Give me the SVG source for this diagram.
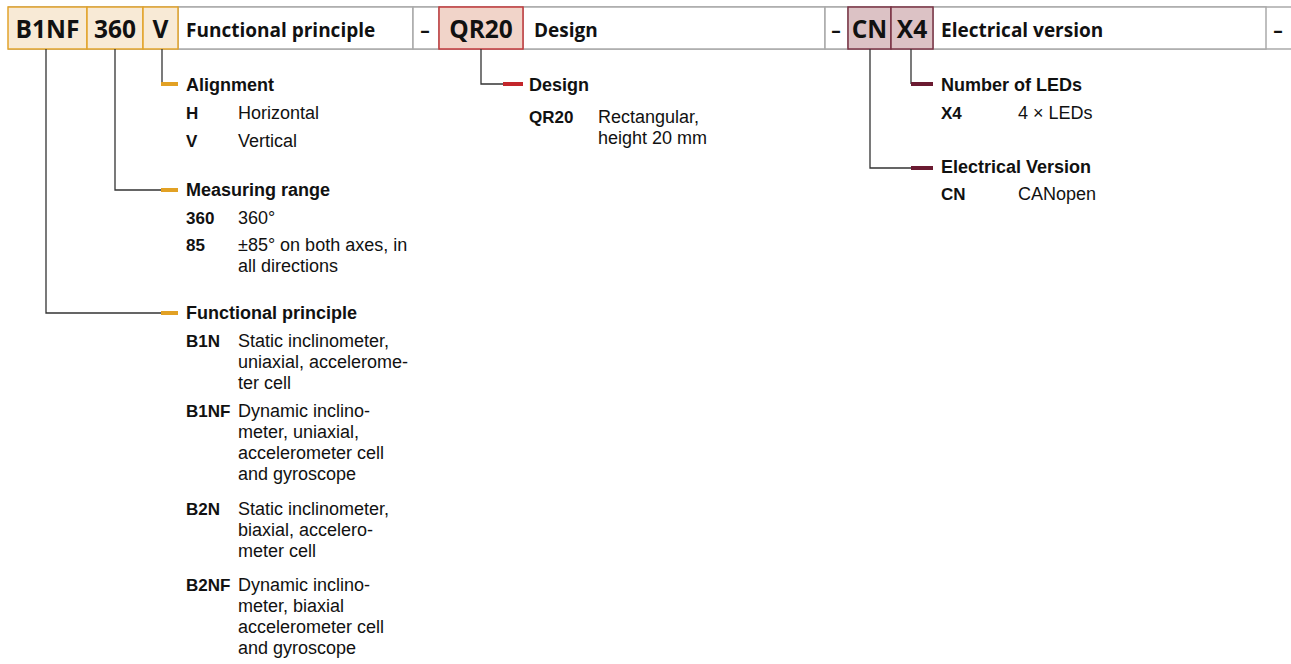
<svg xmlns="http://www.w3.org/2000/svg" width="1291" height="664" viewBox="0 0 1291 664">
<style>
text{font-family:"Open Sans","Noto Sans","Liberation Sans",sans-serif;fill:#111}
.hc{font-size:24.5px;font-weight:bold;text-anchor:middle}
.hl{font-size:19px;font-weight:bold}
.t,.c,.d{font-family:"Liberation Sans",Arial,sans-serif}
.t{font-size:18px;font-weight:bold}
.c{font-size:17px;font-weight:bold}
.d{font-size:18px}
.cell{fill:#fff;stroke:#aaa;stroke-width:1.5}
.o{fill:#f8ead6;stroke:#e2a42c;stroke-width:1.5}
.r{fill:#f1d4c9;stroke:#c1393b;stroke-width:1.5}
.m{fill:#dcc2c5;stroke:#7a3344;stroke-width:1.5}
.ln{fill:none;stroke:#333;stroke-width:1.3}
.mo{stroke:#e2a124;stroke-width:4}
.mr{stroke:#c3262b;stroke-width:4}
.mm{stroke:#6b1a31;stroke-width:4}
</style>
<rect width="1291" height="664" fill="#fff"/>
<g id="header">
<line x1="8" y1="7" x2="1291" y2="7" stroke="#aaa" stroke-width="1.5"/>
<line x1="8" y1="49" x2="1291" y2="49" stroke="#aaa" stroke-width="1.5"/>
<rect class="cell" x="178" y="7" width="235" height="42"/>
<rect class="cell" x="413" y="7" width="26" height="42"/>
<rect class="cell" x="523" y="7" width="302" height="42"/>
<rect class="cell" x="825" y="7" width="23" height="42"/>
<rect class="cell" x="933" y="7" width="333" height="42"/>
<text class="hl" x="425" y="37" text-anchor="middle">–</text>
<text class="hl" x="836" y="37" text-anchor="middle">–</text>
<text class="hl" x="1278" y="37" text-anchor="middle">–</text>
</g>
<g id="code-B1NF"><rect class="o" x="8" y="7" width="79" height="42"/><text class="hc" x="47.5" y="38">B1NF</text></g>
<g id="code-360"><rect class="o" x="87" y="7" width="56" height="42"/><text class="hc" x="115" y="38">360</text></g>
<g id="code-V"><rect class="o" x="143" y="7" width="35" height="42"/><text class="hc" x="160.5" y="38">V</text></g>
<g id="label-functional"><text class="hl" x="186" y="37">Functional principle</text></g>
<g id="code-QR20"><rect class="r" x="439" y="7" width="84" height="42"/><text class="hc" x="481" y="38">QR20</text></g>
<g id="label-design"><text class="hl" x="534" y="37">Design</text></g>
<g id="code-CN"><rect class="m" x="848" y="7" width="43" height="42"/><text class="hc" x="869.5" y="38">CN</text></g>
<g id="code-X4"><rect class="m" x="891" y="7" width="42" height="42"/><text class="hc" x="912" y="38">X4</text></g>
<g id="label-electrical"><text class="hl" x="941" y="37">Electrical version</text></g>

<g id="connectors">
<polyline class="ln" points="162,49 162,84"/>
<polyline class="ln" points="115,49 115,190 162,190"/>
<polyline class="ln" points="46,49 46,313 162,313"/>
<polyline class="ln" points="481,49 481,84 503,84"/>
<polyline class="ln" points="911,49 911,84"/>
<polyline class="ln" points="870,49 870,168 911,168"/>
<line class="mo" x1="161" y1="84" x2="178" y2="84"/>
<line class="mo" x1="161" y1="190" x2="178" y2="190"/>
<line class="mo" x1="161" y1="313" x2="178" y2="313"/>
<line class="mr" x1="503" y1="84" x2="523" y2="84"/>
<line class="mm" x1="911" y1="84" x2="933" y2="84"/>
<line class="mm" x1="911" y1="168" x2="933" y2="168"/>
</g>

<g id="alignment">
<text class="t" x="186" y="91">Alignment</text>
<text class="c" x="186" y="119">H</text><text class="d" x="238" y="119">Horizontal</text>
<text class="c" x="186" y="147">V</text><text class="d" x="238" y="147">Vertical</text>
</g>
<g id="measuring-range">
<text class="t" x="186" y="196">Measuring range</text>
<text class="c" x="186" y="224">360</text><text class="d" x="238" y="224">360°</text>
<text class="c" x="186" y="251">85</text>
<text class="d" x="238" y="251">±85° on both axes, in<tspan x="238" dy="21">all directions</tspan></text>
</g>
<g id="functional-principle">
<text class="t" x="186" y="319">Functional principle</text>
<text class="c" x="186" y="347">B1N</text>
<text class="d" x="238" y="347">Static inclinometer,<tspan x="238" dy="21">uniaxial, accelerome-</tspan><tspan x="238" dy="21">ter cell</tspan></text>
<text class="c" x="186" y="417">B1NF</text>
<text class="d" x="238" y="417">Dynamic inclino-<tspan x="238" dy="21">meter, uniaxial,</tspan><tspan x="238" dy="21">accelerometer cell</tspan><tspan x="238" dy="21">and gyroscope</tspan></text>
<text class="c" x="186" y="515">B2N</text>
<text class="d" x="238" y="515">Static inclinometer,<tspan x="238" dy="21">biaxial, accelero-</tspan><tspan x="238" dy="21">meter cell</tspan></text>
<text class="c" x="186" y="591">B2NF</text>
<text class="d" x="238" y="591">Dynamic inclino-<tspan x="238" dy="21">meter, biaxial</tspan><tspan x="238" dy="21">accelerometer cell</tspan><tspan x="238" dy="21">and gyroscope</tspan></text>
</g>
<g id="design">
<text class="t" x="529" y="91">Design</text>
<text class="c" x="529" y="123">QR20</text>
<text class="d" x="598" y="123">Rectangular,<tspan x="598" dy="21">height 20 mm</tspan></text>
</g>
<g id="number-of-leds">
<text class="t" x="941" y="91">Number of LEDs</text>
<text class="c" x="941" y="119">X4</text><text class="d" x="1018" y="119">4 × LEDs</text>
</g>
<g id="electrical-version">
<text class="t" x="941" y="173">Electrical Version</text>
<text class="c" x="941" y="200">CN</text><text class="d" x="1018" y="200">CANopen</text>
</g>
</svg>
